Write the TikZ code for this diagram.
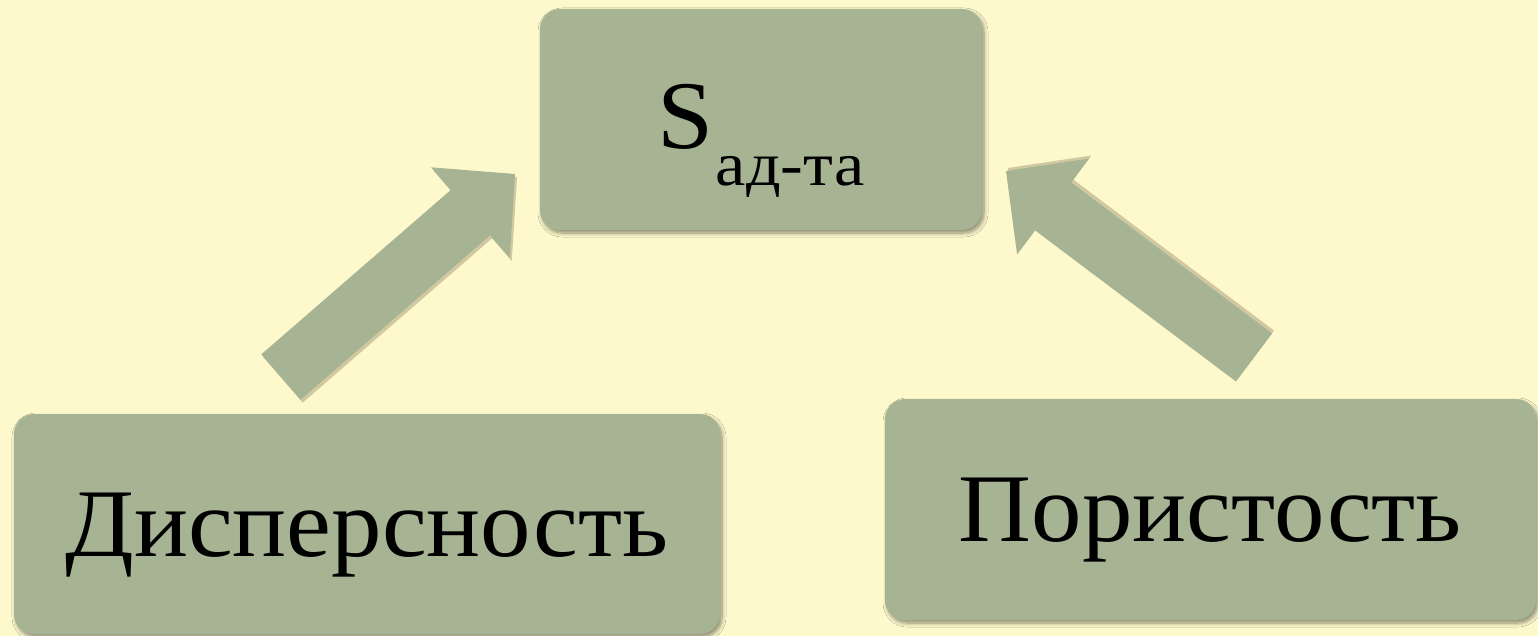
\documentclass[tikz,border=0pt]{standalone}
\usepackage{fontspec}
\setmainfont[FakeStretch=1.04]{Liberation Serif}
\newfontfamily\subf[FakeStretch=1.1]{Liberation Serif}
\usetikzlibrary{calc,shadows,shadows.blur}
\definecolor{bg}{HTML}{FDF9CC}
\definecolor{boxc}{HTML}{A6B494}
\definecolor{shc}{HTML}{7F6E50}
\tikzset{
  box/.style={rounded corners=20pt, fill=boxc,
    blur shadow={shadow xshift=2pt, shadow yshift=-3pt, shadow blur radius=4pt, shadow blur steps=8, shadow opacity=45},
    inner sep=0pt, text height=64pt, text depth=0pt,
    font=\fontsize{97}{110}\selectfont},
  arrowfill/.style={fill=boxc},
  shdown/.style={drop shadow={shadow xshift=2pt, shadow yshift=-3pt, fill=shc, opacity=0.35}},
  shup/.style={drop shadow={shadow xshift=2pt, shadow yshift=3pt, fill=shc, opacity=0.35}}
}
\newcommand\blockarrow[4]{% #1 prefix, #2 tail, #3 tip, #4 shadow style
  \coordinate (#1h) at ($(#3)!59pt!(#2)$);
  \path[arrowfill,#4] ($(#2)!30pt!90:(#3)$) -- ($(#1h)!30pt!90:(#3)$)
    -- ($(#1h)!60pt!90:(#3)$) -- (#3) -- ($(#1h)!60pt!-90:(#3)$)
    -- ($(#1h)!30pt!-90:(#3)$) -- ($(#2)!30pt!-90:(#3)$) -- cycle;}
\begin{document}
\begin{tikzpicture}[x=1pt,y=-1pt]
\fill[bg] (0,0) rectangle (1538,636);
\useasboundingbox (0,0) rectangle (1538,636);
\node[box, text depth=6pt, minimum width=442pt, minimum height=221pt] (top) at (761,119.5)
  {S\kern2pt\raisebox{-37pt}{\fontsize{62}{70}\subf ад-та}};
\node[box, minimum width=706pt, minimum height=220pt] (disp) at (367,524) {Дисперсность};
\node[box, minimum width=651pt, minimum height=221pt] (por) at (1210.5,509.5) {Пористость};
\coordinate (ltail) at (281,377);
\coordinate (ltip) at (515,174);
\coordinate (rtail) at (1254,357.5);
\coordinate (rtip) at (1006,171);
\blockarrow{la}{ltail}{ltip}{shdown}
\blockarrow{ra}{rtail}{rtip}{shup}
\end{tikzpicture}
\end{document}
